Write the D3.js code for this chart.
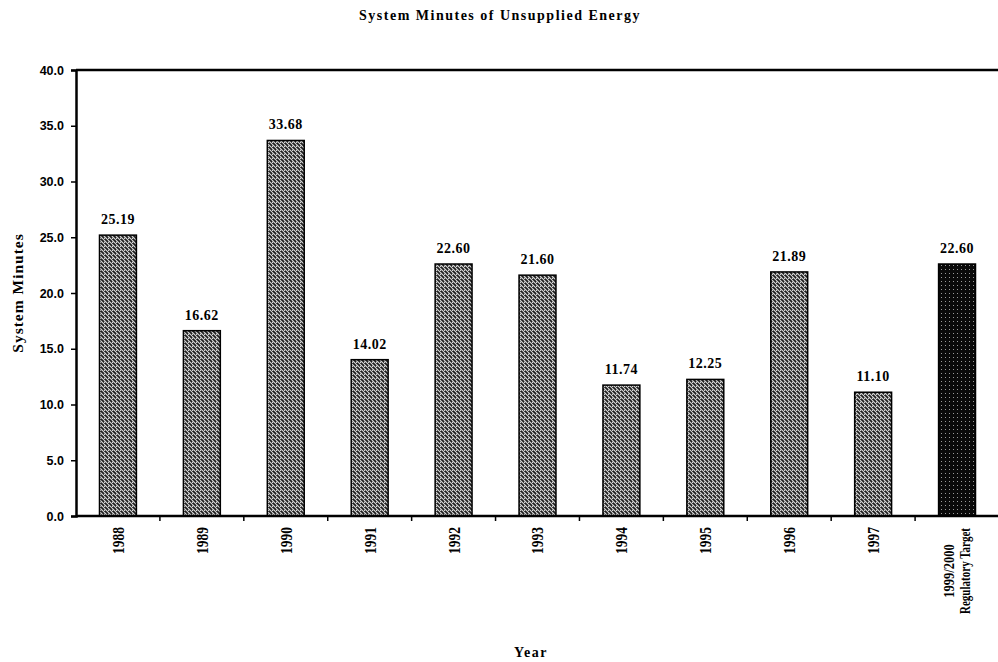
<!DOCTYPE html>
<html><head><meta charset="utf-8">
<script src="https://cdn.jsdelivr.net/npm/d3@7"></script>
<style>body{margin:0;background:#fff;}svg{display:block;}</style>
</head><body>
<svg id="c" width="998" height="662"></svg>
<script>
const categories = ["1988","1989","1990","1991","1992","1993","1994","1995","1996","1997","1999/2000|Regulatory Target"];
const values = [25.19,16.62,33.68,14.02,22.60,21.60,11.74,12.25,21.89,11.10,22.60];
const valueLabels = ["25.19","16.62","33.68","14.02","22.60","21.60","11.74","12.25","21.89","11.10","22.60"];
const yTicks = [0,5,10,15,20,25,30,35,40];

const svg = d3.select("#c");
const m = {l:76, r:-1, t:70, b:146};
const W = 998, H = 662;
const x = d3.scaleBand().domain(categories).range([m.l, W - m.r]).paddingInner(0.56).paddingOuter(0.28);
const y = d3.scaleLinear().domain([0,40]).range([H - m.b, m.t]);

const defs = svg.append("defs");
const p1 = defs.append("pattern").attr("id","hatch").attr("patternUnits","userSpaceOnUse").attr("width",4).attr("height",4);
p1.append("rect").attr("width",4).attr("height",4).attr("fill","#1e1e1e");
p1.append("path").attr("d","M-1,1 l2,2 M0,0 l4,4 M3,-1 l2,2").attr("stroke","#d8d8d8").attr("stroke-width",1.1);
const p2 = defs.append("pattern").attr("id","dots").attr("patternUnits","userSpaceOnUse").attr("width",4).attr("height",4);
p2.append("rect").attr("width",4).attr("height",4).attr("fill","#0a0a0a");
p2.append("rect").attr("x",1).attr("y",1).attr("width",1).attr("height",1).attr("fill","#9a9a9a");

const serif = "Liberation Serif, serif";

// title
svg.append("text").attr("x",500).attr("y",20).attr("text-anchor","middle")
  .attr("font-family",serif).attr("font-weight","bold").attr("font-size",14).attr("letter-spacing","1.5px")
  .text("System Minutes of Unsupplied Energy");

// bars
svg.append("g").selectAll("rect").data(values).join("rect")
  .attr("x",(d,i)=>x(categories[i])).attr("width",x.bandwidth())
  .attr("y",d=>y(d)).attr("height",d=>y(0)-y(d))
  .attr("fill",(d,i)=> i===values.length-1 ? "url(#dots)" : "url(#hatch)")
  .attr("stroke","#000").attr("stroke-width",1.5);

// value labels
svg.append("g").selectAll("text").data(values).join("text")
  .attr("x",(d,i)=>x(categories[i])+x.bandwidth()/2).attr("y",d=>y(d)-11)
  .attr("text-anchor","middle").attr("font-family",serif).attr("font-weight","bold").attr("font-size",14).attr("letter-spacing","0.5px")
  .text((d,i)=>valueLabels[i]);

// y axis
const ya = svg.append("g").attr("transform",`translate(${m.l},0)`)
  .call(d3.axisLeft(y).tickValues(yTicks).tickFormat(d3.format(".1f")).tickSize(5).tickPadding(7));
ya.select(".domain").attr("stroke-width",2.5);
ya.selectAll(".tick line").attr("stroke-width",1.5);
ya.selectAll("text").attr("font-family","Liberation Sans, sans-serif").attr("font-weight","bold").attr("font-size",12.5).attr("fill","#000");

// top border
svg.append("line").attr("x1",m.l).attr("x2",W).attr("y1",y(40)).attr("y2",y(40)).attr("stroke","#000").attr("stroke-width",2.5);

// x axis
const step = x.step();
const boundaries = categories.slice(1).map(c => x(c) - x.paddingInner()*step/2);
const xg = svg.append("g");
xg.append("line").attr("x1",m.l).attr("x2",W).attr("y1",y(0)).attr("y2",y(0)).attr("stroke","#000").attr("stroke-width",2.5);
xg.selectAll("line.t").data(boundaries).join("line").attr("class","t")
  .attr("x1",d=>d).attr("x2",d=>d).attr("y1",y(0)).attr("y2",y(0)+5).attr("stroke","#000").attr("stroke-width",1.5);

// x labels rotated
const single = categories.filter(c => !c.includes("|"));
const multi = categories.filter(c => c.includes("|"));
svg.append("g").selectAll("text").data(single).join("text")
  .attr("transform",c=>`translate(${x(c)+x.bandwidth()/2},${y(0)+11}) rotate(-90) scale(1,1.25)`)
  .attr("text-anchor","end").attr("dy","0.35em")
  .attr("font-family",serif).attr("font-weight","bold").attr("font-size",13.5).text(c=>c);
const ml = svg.append("g").selectAll("text").data(multi).join("text")
  .attr("transform",c=>`translate(${x(c)+x.bandwidth()/2},${y(0)+55}) rotate(-90) scale(1,1.2)`)
  .attr("text-anchor","middle").attr("font-family",serif).attr("font-weight","bold").attr("font-size",12.5);
ml.each(function(c){
  const parts = c.split("|");
  const t = d3.select(this);
  t.append("tspan").attr("x",0).attr("dy","-2.2px").text(parts[0]);
  t.append("tspan").attr("x",0).attr("dy","13px").attr("textLength",86).attr("lengthAdjust","spacingAndGlyphs").text(parts[1]);
});

// axis titles
svg.append("text").attr("transform",`translate(23,${(y(0)+y(40))/2}) rotate(-90)`).attr("text-anchor","middle")
  .attr("font-family",serif).attr("font-weight","bold").attr("font-size",15.5).attr("letter-spacing","1px").text("System Minutes");
svg.append("text").attr("x",531).attr("y",657).attr("text-anchor","middle")
  .attr("font-family",serif).attr("font-weight","bold").attr("font-size",14).attr("letter-spacing","1.5px").text("Year");
</script>
</body></html>
